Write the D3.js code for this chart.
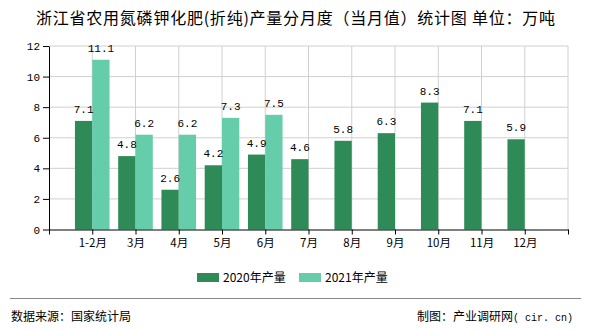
<!DOCTYPE html>
<html><head><meta charset="utf-8">
<script src="https://cdn.jsdelivr.net/npm/d3@7"></script>
<style>body{margin:0;background:#fff}svg{display:block}</style>
</head><body>
<svg id="c" width="590" height="330"></svg>
<script>
const categories = ["1-2月","3月","4月","5月","6月","7月","8月","9月","10月","11月","12月"];
const values2020 = [7.1,4.8,2.6,4.2,4.9,4.6,5.8,6.3,8.3,7.1,5.9];
const values2021 = [11.1,6.2,6.2,7.3,7.5,null,null,null,null,null,null];
const seriesNames = ["2020年产量","2021年产量"];
const yTicks = [0,2,4,6,8,10,12];
const colors = ["#2e8b57","#66cdaa"];

const svg = d3.select("#c");
const L = 49, R = 568, T = 46, B = 229.5;
const x = d3.scalePoint().domain(["_s", ...categories, "_e"]).range([L, R]);
const y = d3.scaleLinear().domain([0,12]).range([B, T]);
const bw = 17.3;
const cjk = "'Noto Sans CJK SC', sans-serif";
const lf = "'Liberation Mono', monospace";

// title
svg.append("text").attr("x", 36).attr("y", 24)
  .attr("font-family", cjk).attr("font-size", 16).attr("fill","#000")
  .attr("textLength", 519).attr("lengthAdjust","spacing")
  .text("浙江省农用氮磷钾化肥(折纯)产量分月度（当月值）统计图 单位：万吨");

// grid
const g = svg.append("g");
g.selectAll(".hg").data(yTicks.slice(1)).enter().append("line")
  .attr("x1", L).attr("x2", R).attr("y1", d=>y(d)).attr("y2", d=>y(d))
  .attr("stroke","#d0d0d0").attr("stroke-width",1);
g.selectAll(".vg").data(x.domain().slice(1)).enter().append("line")
  .attr("x1", d=>x(d)).attr("x2", d=>x(d)).attr("y1", T).attr("y2", B)
  .attr("stroke","#d0d0d0").attr("stroke-width",1);

// bars
const data = categories.map((c,i)=>({c, a: values2020[i], b: values2021[i]}));
svg.selectAll(".ba").data(data).enter().append("rect")
  .attr("x", d=>x(d.c)-bw).attr("width", bw)
  .attr("y", d=>y(d.a)).attr("height", d=>B-y(d.a)).attr("fill", colors[0]);
svg.selectAll(".bb").data(data.filter(d=>d.b!=null)).enter().append("rect")
  .attr("x", d=>x(d.c)).attr("width", bw)
  .attr("y", d=>y(d.b)).attr("height", d=>B-y(d.b)).attr("fill", colors[1]);

// labels
svg.selectAll(".la").data(data).enter().append("text")
  .attr("x", d=>x(d.c)-bw/2).attr("y", d=>y(d.a)-8).attr("text-anchor","middle")
  .attr("font-family", lf).attr("font-size", 11).attr("fill","#000")
  .text(d=>d.a.toFixed(1));
svg.selectAll(".lb").data(data.filter(d=>d.b!=null)).enter().append("text")
  .attr("x", d=>x(d.c)+bw/2).attr("y", d=>y(d.b)-8).attr("text-anchor","middle")
  .attr("font-family", lf).attr("font-size", 11).attr("fill","#000")
  .text(d=>d.b.toFixed(1));

// y axis
const ya = svg.append("g").attr("transform",`translate(${L},0)`)
  .call(d3.axisLeft(y).tickValues(yTicks).tickSize(6).tickPadding(3).tickSizeOuter(0));
ya.select(".domain").attr("stroke","#000");
ya.selectAll(".tick line").attr("stroke","#000");
ya.selectAll("text").attr("font-family", lf).attr("font-size", 11).attr("fill","#000");

// x axis
const xa = svg.append("g").attr("transform",`translate(0,${B})`)
  .call(d3.axisBottom(x).tickSize(5).tickSizeOuter(0).tickPadding(4));
xa.select(".domain").attr("stroke","#000");
xa.selectAll(".tick line").attr("stroke","#000");
xa.selectAll("text").attr("font-family", cjk).attr("font-size", 11.5).attr("fill","#000")
  .text(d=> d.startsWith("_") ? "" : d);

// legend
const lg = svg.append("g");
const lx = [197, 299];
seriesNames.forEach((n,i)=>{
  lg.append("rect").attr("x", lx[i]).attr("y", 273).attr("width", 22).attr("height", 9).attr("fill", colors[i]);
  lg.append("text").attr("x", lx[i]+26).attr("y", 282).attr("font-family", cjk)
    .attr("font-size", 12).attr("fill","#000").text(n);
});

// footer
svg.append("line").attr("x1",10).attr("x2",581).attr("y1",298.5).attr("y2",298.5)
  .attr("stroke","#888").attr("stroke-width",1);
svg.append("text").attr("x", 11).attr("y", 321).attr("font-family", cjk)
  .attr("font-size", 12).attr("fill","#000").text("数据来源：国家统计局");
const ft = svg.append("text").attr("x", 417).attr("y", 321).attr("fill","#000");
ft.append("tspan").attr("font-family", cjk).attr("font-size", 12).text("制图：产业调研网");
ft.append("tspan").attr("font-family", lf).attr("font-size", 10).text("( cir. cn)");
</script>
</body></html>
